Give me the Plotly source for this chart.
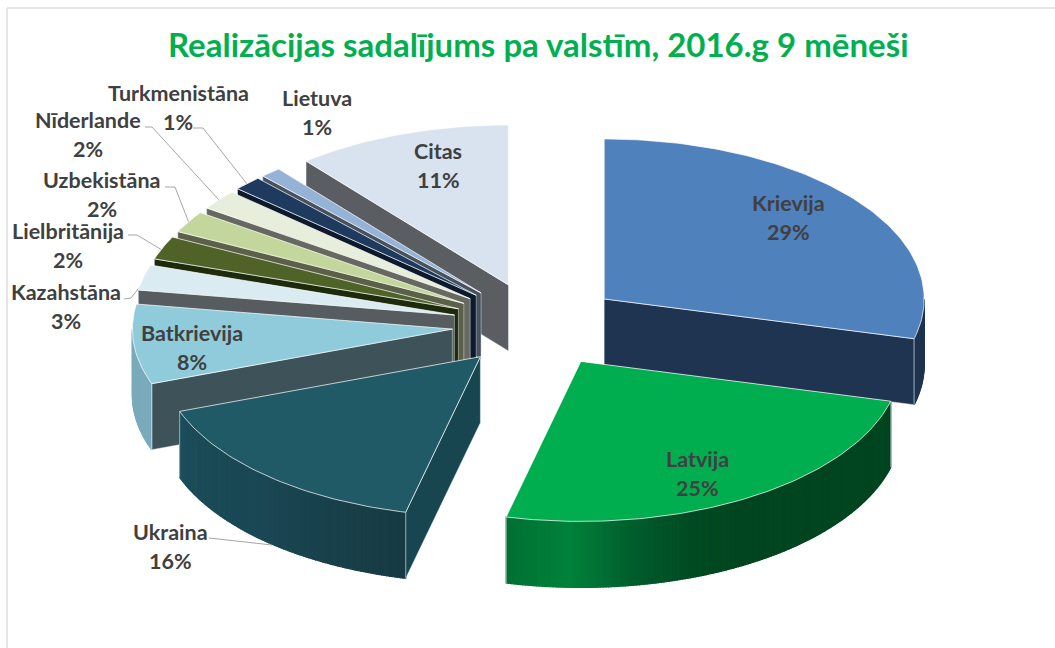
import numpy as np
import plotly.graph_objects as go

# ---- data ----
categories = ["Krievija", "Latvija", "Ukraina", "Batkrievija", "Kazahstāna", "Lielbritānija",
              "Uzbekistāna", "Nīderlande", "Turkmenistāna", "Lietuva", "Citas"]
values = [29.0, 24.75, 15.7, 8.05, 2.55, 2.35, 2.2, 2.0, 1.45, 1.05, 10.9]
top_colors = ["#4F81BD", "#00AE4F", "#215A67", "#8FCBDB", "#DAEBF2", "#4F6228",
              "#C3D69B", "#E8EEDC", "#1F3A5F", "#95B3D7", "#D9E3F0"]
face_colors = ["#1F3450", "#003F1D", "#174651", "#3D5359", "#565C5F", "#1E2A0C",
               "#5A6148", "#66695F", "#0C1A2C", "#48525F", "#5A5D61"]
wall_stops = [["#1F3450", "#1F3450"],
              ["#007034", "#00823A", "#005E2D", "#004A22", "#004520", "#004520", "#004520", "#004520", "#004520"],
              ["#1B4D5A", "#1A4753", "#173A43"], ["#7AABBB", "#7AABBB"],
              ["#555555", "#555555"], ["#222222", "#222222"], ["#555555", "#555555"], ["#555555", "#555555"],
              ["#111111", "#111111"], ["#444444", "#444444"], ["#555555", "#555555"]]
title_text = "Realizācijas sadalījums pa valstīm, 2016.g 9 mēneši"
draw_order = [10, 9, 8, 7, 6, 5, 4, 3, 2, 0, 1]

# ---- projection of the tilted pie ----
CX, CY, R, K, EXPLODE, DEPTH = 537.0, 325.0, 320.0, 0.5, 85.0, 66.0


def project(theta, radius, ox, oy, dz=0.0):
    t = np.radians(theta)
    return ox + radius * np.sin(t), oy - radius * K * np.cos(t) + dz


def hex2rgb(h):
    h = h.lstrip("#")
    return [int(h[i:i + 2], 16) for i in (0, 2, 4)]


def mix(stops, f):
    f = min(max(f, 0), 1) * (len(stops) - 1)
    i = min(int(f), len(stops) - 2)
    a, b = hex2rgb(stops[i]), hex2rgb(stops[i + 1])
    w = f - i
    return "rgb(%d,%d,%d)" % tuple(round(a[j] + (b[j] - a[j]) * w) for j in range(3))


fig = go.Figure()


def poly(xs, ys, fill, line=None, width=0.8):
    fig.add_trace(go.Scatter(x=list(xs) + [xs[0]], y=list(ys) + [ys[0]], mode="lines", fill="toself",
                             fillcolor=fill, line=dict(color=line or fill, width=width),
                             hoverinfo="skip", showlegend=False))


# ---- leader lines (page pixels), drawn first so the slices sit on top ----
leaders = [
    ([193, 203, 247], [128, 128, 184]),
    ([145, 152, 219], [127, 127, 200]),
    ([165, 175, 189], [187, 187, 223]),
    ([128, 137, 162], [235, 235, 250]),
    ([124, 131, 145], [299, 298, 280]),
    ([209, 272], [538, 545]),
]
for lx, ly in leaders:
    fig.add_trace(go.Scatter(x=lx, y=ly, mode="lines", line=dict(color="#a6a6a6", width=1),
                             hoverinfo="skip", showlegend=False))

cum = np.concatenate([[0], np.cumsum(values)]) * 3.6
EDGE = "rgba(235,240,245,0.75)"

for i in draw_order:
    a0, a1 = cum[i], cum[i + 1]
    mid = (a0 + a1) / 2
    ox, oy = project(mid, EXPLODE, CX, CY)
    # radial faces
    for ang, vis in ((a1, a1 < 180), (a0, a0 >= 180)):
        if vis:
            rx, ry = project(ang, R, ox, oy)
            poly([ox, rx, rx, ox], [oy, ry, ry + DEPTH, oy + DEPTH], face_colors[i], EDGE, 0.6)
    # outer wall (visible half only), split in narrow strips for the shading
    w0, w1 = max(a0, 90), min(a1, 270)
    if w1 > w0:
        n = max(int((w1 - w0) / 0.5), 1)
        edges = np.linspace(w0, w1, n + 1)
        for j in range(n):
            x0, y0 = project(edges[j], R, ox, oy)
            x1, y1 = project(edges[j + 1], R, ox, oy)
            col = mix(wall_stops[i], 1 - j / max(n - 1, 1))
            poly([x0, x1, x1, x0], [y0, y1, y1 + DEPTH, y0 + DEPTH], col, None, 1.2)
        for ang in (a1, a0):
            if 90 < ang < 270:
                rx, ry = project(ang, R, ox, oy)
                fig.add_trace(go.Scatter(x=[rx, rx], y=[ry, ry + DEPTH], mode="lines",
                                         line=dict(color=EDGE, width=0.8),
                                         hoverinfo="skip", showlegend=False))
    # top
    th = np.linspace(a0, a1, max(int(a1 - a0), 4) + 1)
    px, py = project(th, R, ox, oy)
    poly([ox] + list(px), [oy] + list(py), top_colors[i], "rgba(255,255,255,0.8)", 0.9)

# ---- labels ----
label_pos = {
    "Krievija": (788, 203), "Latvija": (697, 459), "Ukraina": (170, 532), "Batkrievija": (192, 333),
    "Kazahstāna": (66, 292), "Lielbritānija": (68, 231), "Uzbekistāna": (102, 180),
    "Nīderlande": (88, 120), "Turkmenistāna": (178, 93), "Lietuva": (317, 98), "Citas": (438, 151),
}
FONT = "Lato, 'Open Sans', sans-serif"
annotations = []
for name, v in zip(categories, values):
    x, y = label_pos[name]
    for text, yy in ((name, y), (f"{v:.0f}%", y + 28.5)):
        annotations.append(dict(x=x, y=yy, xref="x", yref="y", text=text, showarrow=False,
                                xanchor="center", yanchor="middle",
                                font=dict(family=FONT, size=21.5, color="#404040", weight="bold")))
annotations.append(dict(x=538, y=44, xref="x", yref="y", text=title_text, showarrow=False,
                        xanchor="center", yanchor="middle",
                        font=dict(family=FONT, size=33, color="#00B050", weight="bold")))

fig.update_layout(
    width=1055, height=648, autosize=False,
    margin=dict(l=0, r=0, t=0, b=0),
    paper_bgcolor="white", plot_bgcolor="white",
    xaxis=dict(range=[0, 1055], visible=False, fixedrange=True),
    yaxis=dict(range=[648, 0], visible=False, fixedrange=True),
    annotations=annotations,
    shapes=[
        dict(type="line", x0=7, x1=1055, y0=8, y1=8, line=dict(color="#dcdcdc", width=1.5)),
        dict(type="line", x0=7, x1=7, y0=8, y1=648, line=dict(color="#dcdcdc", width=1.5)),
    ],
)
fig.write_html("out.html", config=dict(displayModeBar=False),
               post_script="document.body.style.margin='0';")
